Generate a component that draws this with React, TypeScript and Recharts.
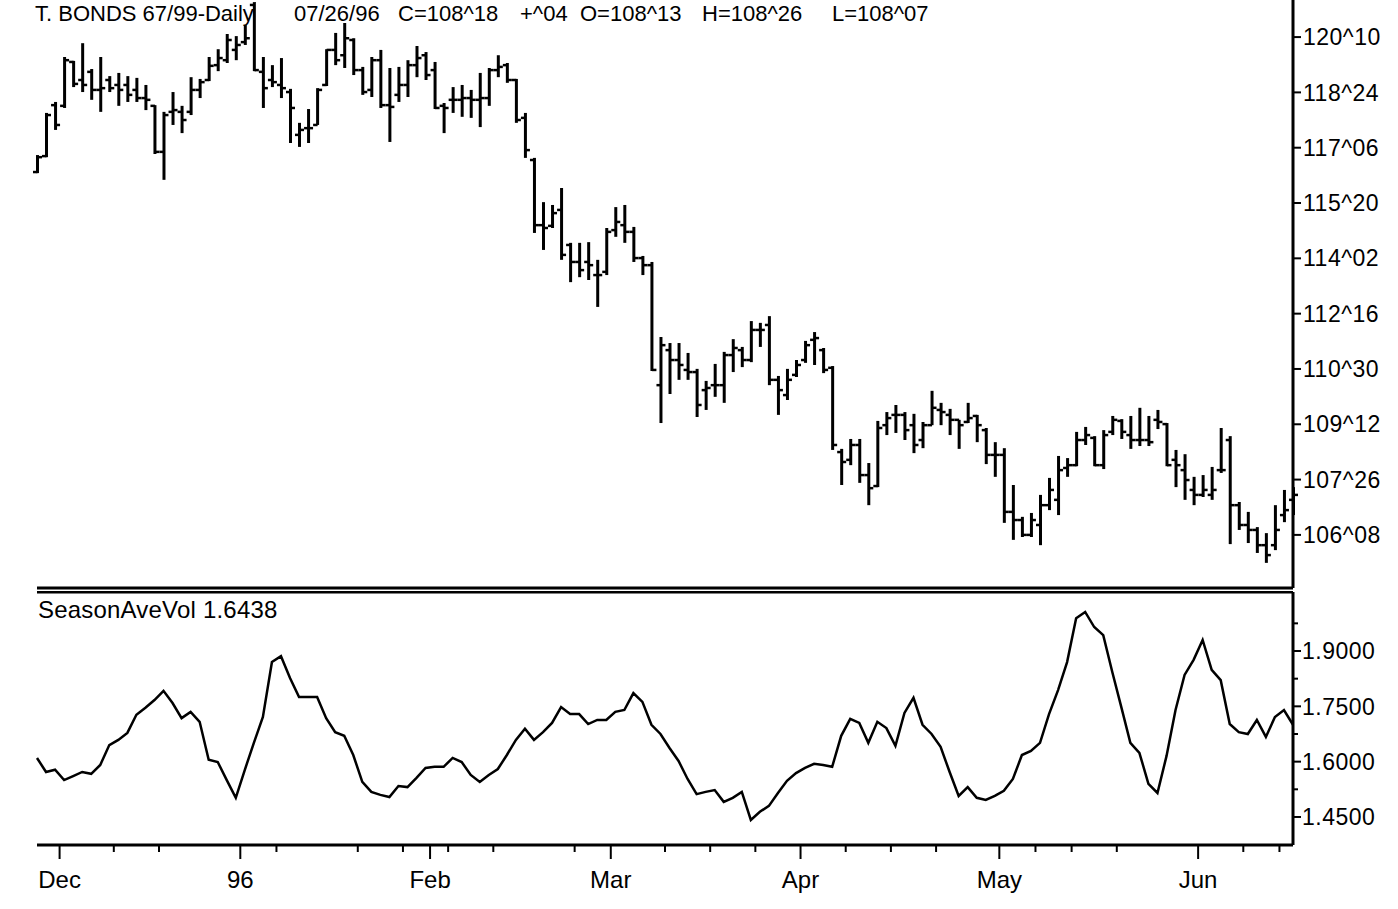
import React from 'react'
import { Bar, ComposedChart, Line, LineChart, ReferenceLine, XAxis, YAxis } from 'recharts'

// T-Bond daily bars, late Nov 95 .. late Jun 96 (one entry per trading day)
const opens = [
  116.5, 116.95, 118.39, 118.37, 119.61, 119.1, 119.33, 118.82, 119.1, 118.96,
  118.96, 118.82, 118.59, 118.37, 117.07, 118.2, 118.2, 118.2, 118.82, 119.1,
  119.52, 119.66, 119.95, 120.17, 121.22, 119.33, 119.1, 118.96, 118.76, 117.55,
  117.74, 117.83, 118.96, 119.95, 119.8, 120.23, 119.38, 118.82, 119.66, 118.39,
  118.68, 118.96, 119.52, 119.8, 119.38, 118.37, 118.54, 118.54, 118.59, 118.54,
  118.59, 119.38, 119.52, 119.1, 118.03, 116.84, 115.0, 114.98, 115.43, 114.44,
  113.96, 113.96, 113.59, 113.68, 114.86, 115.0, 114.81, 114.07, 113.87, 110.48,
  111.47, 111.19, 110.91, 110.85, 110.34, 110.48, 110.48, 111.33, 111.47, 111.19,
  112.04, 112.18, 110.63, 110.2, 110.77, 111.19, 111.76, 111.47, 110.97, 108.59,
  108.37, 108.79, 107.94, 107.63, 109.35, 109.64, 109.64, 109.35, 108.93, 109.35,
  109.78, 109.64, 109.5, 109.44, 109.61, 109.21, 108.51, 108.51, 106.9, 106.67,
  106.25, 106.53, 107.09, 107.24, 108.14, 108.22, 108.93, 108.99, 108.22, 109.16,
  109.47, 109.07, 108.93, 108.93, 109.5, 109.38, 108.37, 108.08, 107.52, 107.38,
  107.38, 108.08, 108.93, 107.09, 106.53, 106.39, 105.96, 105.96, 106.81, 107.24,
]
const highs = [
  116.98, 118.17, 118.48, 119.75, 119.64, 120.14, 119.41, 119.75, 119.21, 119.3,
  119.21, 119.16, 118.96, 118.39, 118.2, 118.76, 118.37, 119.18, 119.13, 119.75,
  119.97, 120.4, 120.34, 120.65, 121.3, 119.75, 119.52, 119.72, 118.85, 117.89,
  118.28, 118.87, 119.97, 120.43, 120.71, 120.28, 119.47, 119.75, 119.95, 119.44,
  119.47, 119.66, 120.06, 119.89, 119.61, 118.45, 118.9, 118.96, 118.82, 119.3,
  119.44, 119.8, 119.58, 119.13, 118.17, 116.9, 115.65, 115.57, 116.05, 114.5,
  114.5, 114.52, 114.02, 114.92, 115.51, 115.57, 114.95, 114.13, 113.96, 111.84,
  111.67, 111.67, 111.39, 110.94, 110.6, 111.08, 111.42, 111.78, 111.56, 112.29,
  112.24, 112.43, 110.74, 110.94, 111.19, 111.73, 111.98, 111.53, 111.02, 108.68,
  108.96, 108.96, 108.28, 109.47, 109.72, 109.92, 109.72, 109.67, 109.44, 110.32,
  109.98, 109.81, 109.5, 109.98, 109.64, 109.27, 108.87, 108.7, 107.66, 106.76,
  106.87, 107.38, 107.86, 108.48, 108.42, 109.16, 109.3, 109.04, 109.21, 109.61,
  109.52, 109.61, 109.84, 109.61, 109.78, 109.41, 108.65, 108.53, 107.89, 107.94,
  108.17, 109.27, 109.04, 107.18, 106.9, 106.47, 106.3, 107.09, 107.52, 107.6,
]
const lows = [
  116.47, 116.92, 117.69, 118.31, 118.9, 118.76, 118.54, 118.2, 118.76, 118.37,
  118.48, 118.48, 118.25, 117.01, 116.28, 117.83, 117.6, 118.11, 118.59, 119.07,
  119.35, 119.58, 119.66, 120.09, 119.35, 118.31, 118.9, 118.59, 117.32, 117.21,
  117.32, 117.83, 118.93, 119.52, 119.44, 119.24, 118.68, 118.62, 118.31, 117.35,
  118.48, 118.62, 119.18, 119.1, 118.28, 117.6, 118.17, 118.06, 118.03, 117.77,
  118.37, 119.18, 119.02, 117.89, 116.9, 114.78, 114.3, 114.92, 114.02, 113.39,
  113.53, 113.45, 112.69, 113.59, 114.67, 114.5, 113.96, 113.59, 110.88, 109.41,
  110.23, 110.63, 110.63, 109.58, 109.78, 110.15, 109.98, 110.85, 110.99, 111.13,
  111.56, 110.48, 109.64, 110.06, 110.71, 111.11, 111.05, 110.82, 108.65, 107.66,
  108.22, 107.72, 107.09, 107.6, 109.07, 109.13, 108.93, 108.56, 108.7, 109.35,
  109.35, 109.07, 108.68, 109.41, 108.87, 108.25, 107.89, 106.59, 106.11, 106.19,
  106.19, 105.96, 106.95, 106.81, 107.89, 108.19, 108.79, 108.19, 108.11, 109.07,
  108.96, 108.68, 108.76, 108.76, 109.24, 108.19, 107.6, 107.24, 107.09, 107.32,
  107.24, 108.0, 105.99, 106.39, 106.02, 105.74, 105.46, 105.82, 106.61, 106.81,
]
const closes = [
  116.92, 118.11, 117.83, 119.66, 118.99, 118.96, 118.82, 118.87, 118.87, 118.82,
  118.68, 118.59, 118.54, 117.07, 118.11, 118.25, 117.97, 118.82, 119.04, 119.5,
  119.72, 120.23, 120.09, 120.28, 119.38, 118.87, 119.04, 118.87, 118.31, 117.69,
  117.74, 118.82, 119.95, 119.66, 120.28, 119.38, 118.76, 119.66, 118.39, 118.34,
  118.96, 119.52, 119.72, 119.24, 118.31, 118.31, 118.54, 118.59, 118.54, 118.59,
  119.38, 119.47, 119.1, 117.97, 117.12, 115.0, 114.92, 115.34, 114.16, 113.96,
  113.73, 113.87, 113.59, 114.81, 115.09, 114.81, 114.07, 113.87, 110.91, 111.61,
  111.19, 111.05, 110.85, 109.92, 110.4, 110.48, 111.33, 111.53, 111.19, 112.04,
  112.04, 110.63, 110.34, 110.63, 111.05, 111.61, 111.81, 110.91, 108.79, 108.31,
  108.79, 107.94, 107.57, 109.27, 109.55, 109.64, 109.21, 108.79, 109.35, 109.84,
  109.72, 109.5, 109.35, 109.55, 109.35, 108.51, 108.51, 106.9, 106.67, 106.25,
  106.67, 107.09, 107.52, 108.08, 108.22, 108.93, 109.07, 108.22, 109.07, 109.5,
  109.16, 108.93, 108.93, 108.87, 109.44, 108.22, 108.22, 107.8, 107.38, 107.52,
  107.52, 108.08, 107.09, 106.53, 106.39, 105.96, 105.68, 106.39, 106.95, 107.38,
]
// SeasonAveVol indicator, same days
const seasonAveVol = [
  1.61, 1.572, 1.578, 1.55, 1.561, 1.572, 1.567, 1.591, 1.645, 1.659,
  1.678, 1.727, 1.746, 1.767, 1.792, 1.759, 1.718, 1.735, 1.708, 1.605,
  1.599, 1.55, 1.502, 1.578, 1.651, 1.721, 1.87, 1.886, 1.827, 1.775,
  1.775, 1.775, 1.718, 1.68, 1.67, 1.618, 1.545, 1.518, 1.51, 1.504,
  1.534, 1.531, 1.556, 1.583, 1.586, 1.586, 1.61, 1.599, 1.564, 1.545,
  1.564, 1.58, 1.618, 1.659, 1.689, 1.659, 1.68, 1.705, 1.748, 1.729,
  1.729, 1.702, 1.713, 1.713, 1.735, 1.74, 1.786, 1.762, 1.7, 1.675,
  1.637, 1.602, 1.553, 1.512, 1.518, 1.523, 1.491, 1.502, 1.518, 1.442,
  1.464, 1.48, 1.515, 1.548, 1.569, 1.583, 1.594, 1.591, 1.586, 1.67,
  1.716, 1.705, 1.651, 1.708, 1.691, 1.643, 1.732, 1.773, 1.7, 1.675,
  1.64, 1.572, 1.507, 1.531, 1.502, 1.496, 1.507, 1.521, 1.553, 1.618,
  1.629, 1.651, 1.729, 1.794, 1.87, 1.989, 2.006, 1.965, 1.943, 1.843,
  1.748, 1.651, 1.624, 1.54, 1.515, 1.615, 1.74, 1.835, 1.876, 1.93,
  1.849, 1.821, 1.702, 1.68, 1.675, 1.713, 1.667, 1.721, 1.74, 1.7,
]

const priceTicks = [106.25, 107.8125, 109.375, 110.9375, 112.5, 114.0625, 115.625, 117.1875, 118.75, 120.3125]
const volTicks = [1.45, 1.6, 1.75, 1.9]
const volMinorTicks = [1.525, 1.675, 1.825, 1.975]
const monthLabels = ['Dec', '96', 'Feb', 'Mar', 'Apr', 'May', 'Jun']
const monthTicks = [3.5, 23.5, 44.5, 64.5, 85.5, 107.5, 129.5]
const weekTicks = [9.5, 14.5, 27.5, 36.5, 41.5, 46.5, 51.5, 60.5, 70.5, 75.5, 80.5, 90.5, 95.5, 100.5, 111.5, 115.5, 120.5, 134.5, 138.5]

const FONT = '"Liberation Sans", Arial, sans-serif'

const bars = highs.map((h, k) => ({
  day: k + 1,
  open: opens[k],
  high: h,
  low: lows[k],
  close: closes[k],
  range: [lows[k], h],
}))
const volRows = seasonAveVol.map((v, k) => ({ day: k + 1, vol: v }))

// prices in 32nds, e.g. 120^10
const fmt32 = (v: number) => {
  const whole = Math.floor(v + 1e-9)
  const n = Math.round((v - whole) * 32)
  return `${whole}^${String(n).padStart(2, '0')}`
}

const OhlcShape = (props: any) => {
  const { x, y, width, height, payload } = props
  if (!payload) return null
  const cx = x + width / 2
  const top = Math.min(y, y + height)
  const h = Math.abs(height)
  const span = payload.high - payload.low || 1
  const toY = (v: number) => top + ((payload.high - v) / span) * h
  return (
    <g stroke="#000">
      <line x1={cx} x2={cx} y1={top} y2={top + Math.max(h, 1)} strokeWidth={3} />
      <line x1={cx - 4.5} x2={cx} y1={toY(payload.open)} y2={toY(payload.open)} strokeWidth={2.5} />
      <line x1={cx} x2={cx + 4.5} y1={toY(payload.close)} y2={toY(payload.close)} strokeWidth={2.5} />
    </g>
  )
}

const DateTick = (props: any) => {
  const { x, y, payload } = props
  const m = monthTicks.indexOf(payload.value)
  if (m < 0) {
    return <line x1={x} x2={x} y1={y} y2={y + 7} stroke="#000" strokeWidth={2} />
  }
  return (
    <g>
      <line x1={x} x2={x} y1={y} y2={y + 14} stroke="#000" strokeWidth={2} />
      <text x={x} y={y + 43} textAnchor="middle" fontSize={24} fill="#000" fontFamily={FONT}>
        {monthLabels[m]}
      </text>
    </g>
  )
}

const VolTick = (props: any) => {
  const { x, y, payload } = props
  if (!volTicks.includes(payload.value)) {
    return <line x1={x} x2={x + 5} y1={y} y2={y} stroke="#000" strokeWidth={2} />
  }
  return (
    <g>
      <line x1={x} x2={x + 8} y1={y} y2={y} stroke="#000" strokeWidth={2} />
      <text x={x + 9} y={y} dy="0.36em" fontSize={23} fill="#000" fontFamily={FONT} letterSpacing={0.5}>
        {payload.value.toFixed(4)}
      </text>
    </g>
  )
}

const titleParts = [
  { text: 'T. BONDS 67/99-Daily', left: 35 },
  { text: '07/26/96', left: 294 },
  { text: 'C=108^18', left: 398 },
  { text: '+^04', left: 520 },
  { text: 'O=108^13', left: 580 },
  { text: 'H=108^26', left: 702 },
  { text: 'L=108^07', left: 832 },
]

const App = () => {
  return (
    <div style={{ position: 'absolute', left: 0, top: 0, width: 1398, height: 909, background: '#fff', fontFamily: FONT, overflow: 'hidden' }}>
      <ComposedChart width={1398} height={591} data={bars} margin={{ top: 0, right: 0, bottom: 0, left: 37 }}>
        <XAxis
          type="number"
          dataKey="day"
          domain={[1, 140]}
          height={3}
          tick={false}
          tickLine={false}
          axisLine={{ stroke: '#000', strokeWidth: 3 }}
        />
        <YAxis
          orientation="right"
          domain={[104.75, 121.36]}
          ticks={priceTicks}
          interval={0}
          tickFormatter={fmt32}
          width={105}
          axisLine={{ stroke: '#000', strokeWidth: 3 }}
          tickLine={{ stroke: '#000', strokeWidth: 2 }}
          tickSize={8}
          tickMargin={2}
          tick={{ fill: '#000', fontSize: 23, letterSpacing: 0.5 }}
        />
        <Bar dataKey="range" barSize={8} shape={<OhlcShape />} isAnimationActive={false} />
      </ComposedChart>

      <LineChart width={1398} height={318} data={volRows} margin={{ top: 1, right: 0, bottom: 0, left: 37 }}>
        <XAxis
          type="number"
          dataKey="day"
          domain={[1, 140]}
          ticks={[...monthTicks, ...weekTicks]}
          interval={0}
          height={64}
          tickSize={0}
          tickMargin={0}
          tickLine={false}
          axisLine={{ stroke: '#000', strokeWidth: 3 }}
          tick={<DateTick />}
        />
        <YAxis
          orientation="right"
          domain={[1.374, 2.06]}
          ticks={[...volTicks, ...volMinorTicks]}
          interval={0}
          width={105}
          tickSize={0}
          tickMargin={0}
          tickLine={false}
          axisLine={{ stroke: '#000', strokeWidth: 3 }}
          tick={<VolTick />}
        />
        <ReferenceLine y={2.06} stroke="#000" strokeWidth={3} />
        <Line type="linear" dataKey="vol" stroke="#000" strokeWidth={2.5} dot={false} isAnimationActive={false} />
      </LineChart>

      {titleParts.map((p) => (
        <div key={p.text} style={{ position: 'absolute', left: p.left, top: 3, fontSize: 22, lineHeight: '22px', whiteSpace: 'pre', color: '#000' }}>
          {p.text}
        </div>
      ))}
      <div style={{ position: 'absolute', left: 38, top: 598, fontSize: 24, lineHeight: '24px', letterSpacing: 0.2, color: '#000' }}>
        SeasonAveVol 1.6438
      </div>
    </div>
  )
}

export default App
